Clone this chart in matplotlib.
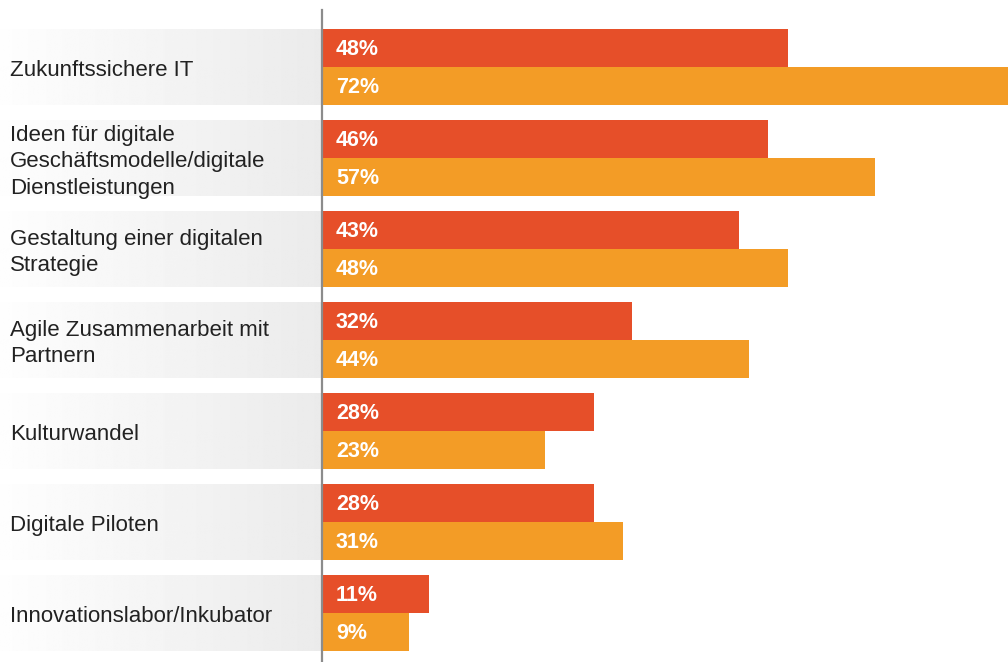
import matplotlib.pyplot as plt
import numpy as np

plt.rcParams['font.family'] = ['Liberation Sans', 'DejaVu Sans']

# Data
categories = [
    'Zukunftssichere IT',
    'Ideen für digitale\nGeschäftsmodelle/digitale\nDienstleistungen',
    'Gestaltung einer digitalen\nStrategie',
    'Agile Zusammenarbeit mit\nPartnern',
    'Kulturwandel',
    'Digitale Piloten',
    'Innovationslabor/Inkubator',
]
series_a = [48, 46, 43, 32, 28, 28, 11]
series_b = [72, 57, 48, 44, 23, 31, 9]

RED = '#e64f29'
ORANGE = '#f39c26'

fig = plt.figure(figsize=(10.08, 6.62), dpi=100)
ax = fig.add_axes([0, 0, 1, 1])

px = 9.7  # pixels per percent
xmin, xmax = -322 / px, 686 / px
pitch = 91.0
ymin, ymax = (0 - 67) / pitch, (662 - 67) / pitch
h = 38 / pitch

ax.set_xlim(xmin, xmax)
ax.set_ylim(ymax, ymin)
ax.axis('off')

y = np.arange(len(categories))

# grey gradient behind the labels
grad = np.linspace(0.995, 0.92, 256).reshape(1, -1)
for yi in y:
    ax.imshow(grad, cmap='gray', vmin=0, vmax=1, aspect='auto',
              extent=(xmin, 0, yi + h, yi - h), zorder=0)

ax.barh(y - h / 2, series_a, height=h, color=RED, zorder=2)
ax.barh(y + h / 2, series_b, height=h, color=ORANGE, zorder=2)

for yi, a, b, name in zip(y, series_a, series_b, categories):
    ax.text(14 / px, yi - h / 2 + 0.02, '{}%'.format(a), color='white',
            fontsize=15.5, fontweight='bold', va='center', ha='left', zorder=3)
    ax.text(14 / px, yi + h / 2 + 0.02, '{}%'.format(b), color='white',
            fontsize=15.5, fontweight='bold', va='center', ha='left', zorder=3)
    ax.text(xmin + 10 / px, yi + 0.04, name, color='#222222', fontsize=16,
            va='center', ha='left', linespacing=1.35, zorder=3)

# axis line
ax.plot([0, 0], [(10 - 67) / pitch, ymax], color='#8c8c8c', lw=1.6, zorder=4)

fig.savefig('out.png', dpi=100)
